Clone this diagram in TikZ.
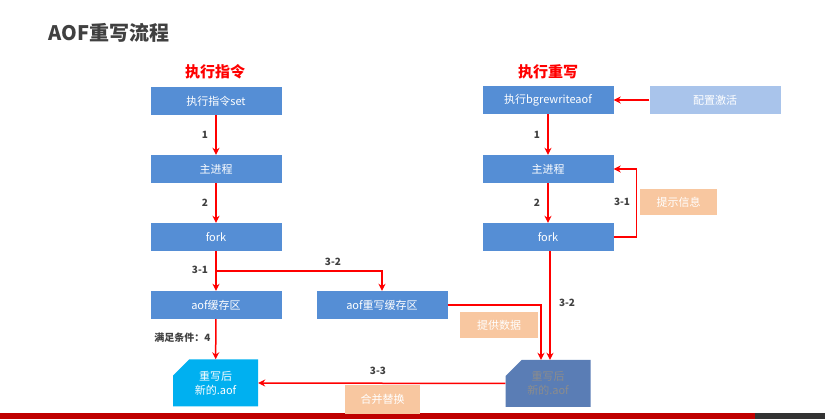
\documentclass[tikz,border=0pt]{standalone}
\usepackage{fontspec}
\setmainfont{Noto Sans CJK SC}
\usetikzlibrary{arrows.meta,shapes.misc}
\definecolor{bx}{HTML}{558ED5}
\definecolor{lb}{HTML}{A9C4EB}
\definecolor{og}{HTML}{F8C7A0}
\definecolor{cy}{HTML}{00B0F0}
\definecolor{db}{HTML}{5A7DB5}
\tikzset{
 bbox/.style={fill=bx,text=white,minimum width=131pt,minimum height=28pt,inner sep=0pt,font=\fontsize{11}{13}\selectfont},
 obox/.style={fill=og,text=white,minimum height=26pt,inner sep=0pt,font=\fontsize{11}{13}\selectfont},
 aofbox/.style={chamfered rectangle,chamfered rectangle corners=north west,chamfered rectangle xsep=8pt,chamfered rectangle ysep=8pt,minimum width=85pt,minimum height=47pt,inner sep=0pt,align=center,font=\fontsize{11}{14}\selectfont},
 arr/.style={red,line width=1.5pt,-{Stealth[length=7pt,width=7pt]}},
 lnk/.style={red,line width=1.5pt},
 num/.style={font=\bfseries\fontsize{10}{12}\selectfont,text=black!75},
 head/.style={font=\bfseries\fontsize{15}{18}\selectfont,text=red}
}
\begin{document}
\begin{tikzpicture}[x=1pt,y=-1pt]
\useasboundingbox (0,0) rectangle (825,419);
\fill[red!75!black] (0,413) rectangle (755,419);
\fill[black!80] (755,413) rectangle (825,419);
\node[anchor=west,font=\bfseries\fontsize{20}{24}\selectfont,text=black!75] (title) at (45,33) {AOF重写流程};
\node[head] (h1) at (215,72) {执行指令};
\node[head] (h2) at (548,72) {执行重写};
\node[bbox] (a1) at (216,101) {执行指令set};
\node[bbox] (a2) at (216,169) {主进程};
\node[bbox] (a3) at (216,237) {fork};
\node[bbox] (a4) at (216,305) {aof缓存区};
\node[bbox] (a5) at (382,305) {aof重写缓存区};
\node[bbox] (b1) at (548,100) {执行bgrewriteaof};
\node[bbox,fill=lb] (cfg) at (715,100) {配置激活};
\node[bbox] (b2) at (548,169) {主进程};
\node[bbox] (b3) at (548,237) {fork};
\node[aofbox,fill=cy,text=white] (n1) at (215.5,383) {重写后\\新的.aof};
\node[aofbox,fill=db,text=black!45] (n2) at (548,383.5) {重写后\\新的.aof};
\node[obox,minimum width=77pt] (tip) at (678.5,202) {提示信息};
\node[obox,minimum width=78pt] (data) at (499,325) {提供数据};
\node[obox,minimum width=75pt,minimum height=29pt] (merge) at (382.5,399.5) {合并替换};
\draw[arr] (a1) -- node[num,left=4pt]{1} (a2);
\draw[arr] (a2) -- node[num,left=4pt]{2} (a3);
\draw[arr] (a3) -- (a4);
\coordinate (br) at (216,271);
\draw[arr] (br) -| (a5);
\node[num] at (200,270) {3-1};
\node[num] at (333,262) {3-2};
\draw[arr] (a4) -- (n1);
\node[num,anchor=east] at (214,338) {满足条件：4};
\draw[arr] (cfg) -- (b1);
\draw[arr] (b1) -- node[num,left=4pt]{1} (b2);
\draw[arr] (b2) -- node[num,left=4pt]{2} (b3);
\draw[arr] (b3.east) -- ++(23,0) |- (b2.east);
\node[num] at (622,202) {3-1};
\draw[arr] (b3.south) ++(2,0) -- ([xshift=2pt]n2.north);
\node[num] at (567,303) {3-2};
\draw[arr] (a5.east) -- (541,305) -- ([xshift=-7pt]n2.north);
\draw[arr] (n2.west) -- (n1.east);
\node[num] at (378,371) {3-3};
\end{tikzpicture}
\end{document}
